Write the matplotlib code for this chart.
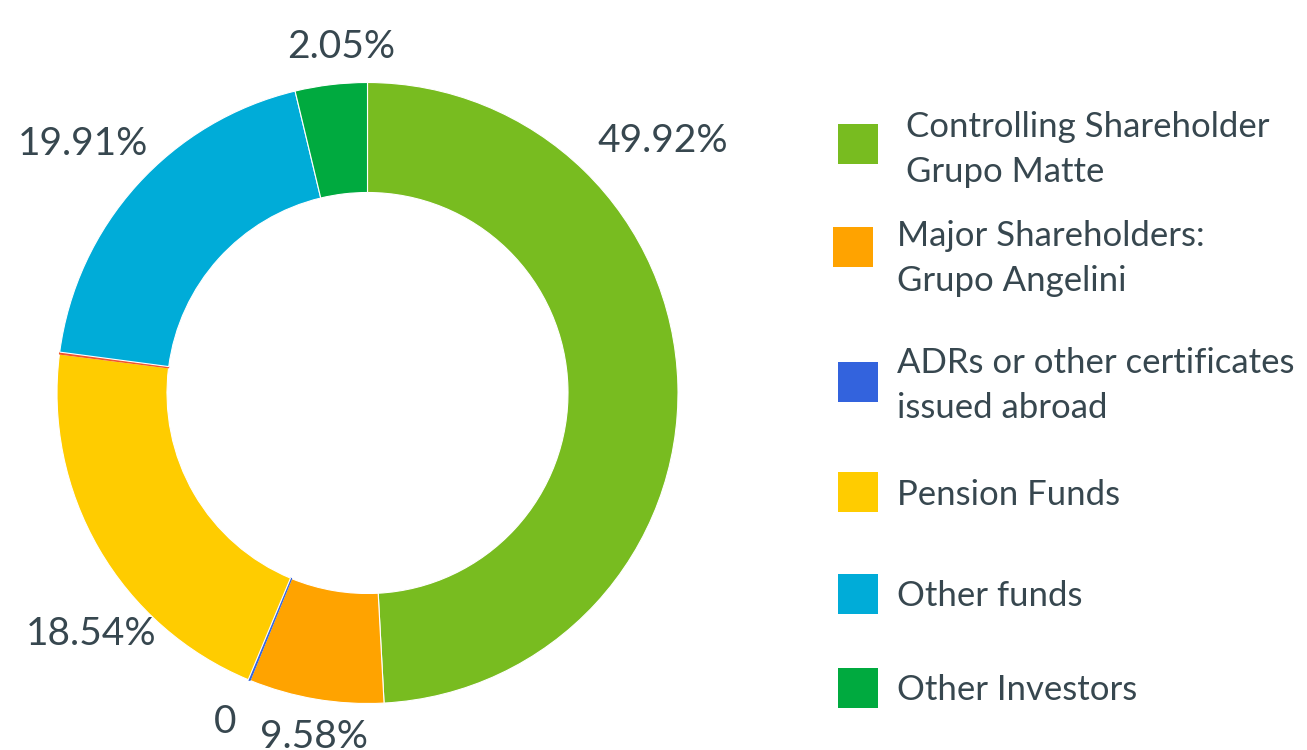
import matplotlib
matplotlib.use("Agg")
import matplotlib.pyplot as plt
from matplotlib.patches import Rectangle

# ---- data ----
categories = ["Controlling Shareholder\nGrupo Matte",
              "Major Shareholders:\nGrupo Angelini",
              "ADRs or other certificates\nissued abroad",
              "Pension Funds",
              "Other (unlabelled)",
              "Other funds",
              "Other Investors"]
slice_sizes = [49.2, 7.03, 0.1, 20.75, 0.1, 19.17, 3.75]   # angular shares as drawn
value_labels = ["49.92%", "9.58%", "0", "18.54%", "", "19.91%", "2.05%"]
colors = ["#78bc20", "#ffa300", "#3363dd", "#ffcc00", "#f0522a", "#00acd8", "#00aa3f"]
in_legend = [True, True, True, True, False, True, True]

# ---- layout (pixel coordinates, y measured from top) ----
W, H = 1307, 750
TEXT = "#37474f"
FONT = "Lato"
center = (367.5, 393)
r_out, ring_w = 310.5, 110
label_pos = [(662.5, 151.7), (314, 747.5), (225.5, 733.3), (91, 645),
             None, (82.5, 155), (341, 57.7)]
legend_boxes = [(838, 124), (833, 227), (838, 362), (838, 472), None, (838, 574), (838, 668)]
legend_text = [(906, 136.7), (896.7, 246), (896.7, 372.7), (896.7, 505), None,
               (896.7, 605.7), (896.7, 700)]
line_gap = 45
box = 40

fig = plt.figure(figsize=(W / 100, H / 100), dpi=100)
ax = fig.add_axes([0, 0, 1, 1])

def Y(y):
    return H - y

wedges, _ = ax.pie(slice_sizes, colors=colors, startangle=90, counterclock=False,
                   radius=r_out, center=(center[0], Y(center[1])),
                   wedgeprops=dict(width=ring_w, edgecolor="white", linewidth=0.8))
for w, s, c in zip(wedges, slice_sizes, colors):
    if s < 1:
        w.set_edgecolor(c)
        w.set_linewidth(0.8)

ax.set_xlim(0, W)
ax.set_ylim(0, H)
ax.set_aspect("equal")
ax.axis("off")

for lab, pos in zip(value_labels, label_pos):
    if pos is None or not lab:
        continue
    ax.text(pos[0], Y(pos[1]), lab, ha="center", va="baseline",
            fontsize=28, color=TEXT, family=FONT)

for cat, c, show, b, t in zip(categories, colors, in_legend, legend_boxes, legend_text):
    if not show:
        continue
    ax.add_patch(Rectangle((b[0], Y(b[1] + box)), box, box, facecolor=c, edgecolor="none"))
    for i, line in enumerate(cat.split("\n")):
        ax.text(t[0], Y(t[1] + i * line_gap), line, ha="left", va="baseline",
                fontsize=25, color=TEXT, family=FONT)

fig.savefig("out.png", dpi=100)
